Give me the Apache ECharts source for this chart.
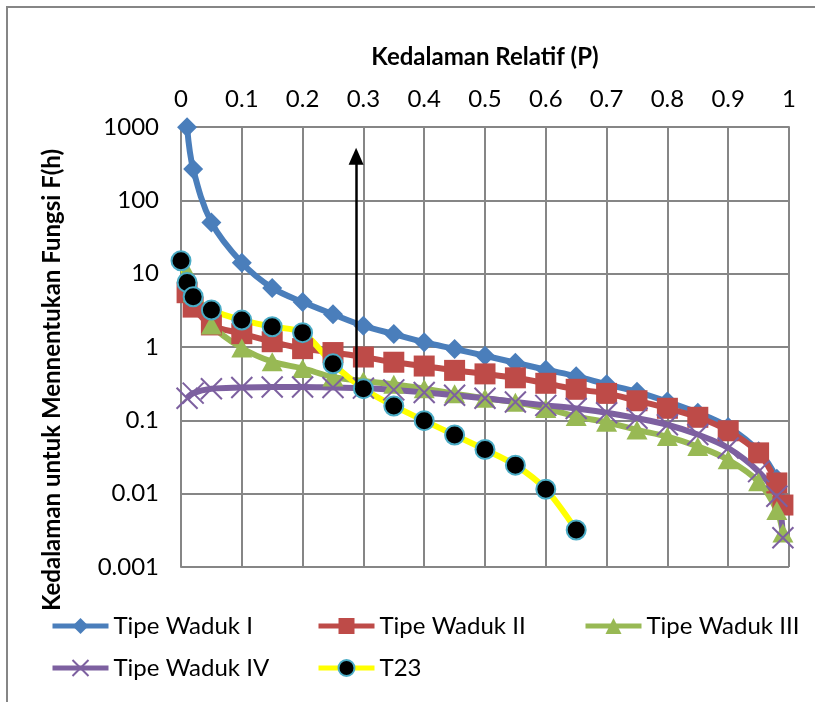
<!DOCTYPE html>
<html>
<head>
<meta charset="utf-8">
<script src="https://cdn.jsdelivr.net/npm/echarts@6/dist/echarts.min.js"></script>
<style>
  html, body { margin: 0; padding: 0; background: #fff; }
  #chart { width: 815px; height: 702px; }
</style>
</head>
<body>
<div id="chart"></div>
<script>
// Relative depth P for the four reservoir type curves
const pTypes = [0.01, 0.02, 0.05, 0.1, 0.15, 0.2, 0.25, 0.3, 0.35, 0.4, 0.45, 0.5,
                0.55, 0.6, 0.65, 0.7, 0.75, 0.8, 0.85, 0.9, 0.95, 0.98, 0.99];
// F(h) for each reservoir type
const fTipe1 = [993, 267, 50, 14.1, 6.4, 4.1, 2.8, 1.95, 1.5, 1.16, 0.94, 0.76,
                0.61, 0.49, 0.40, 0.31, 0.245, 0.18, 0.127, 0.081, 0.038, 0.016, 0.0075];
const fTipe2 = [5.5, 3.5, 2.0, 1.52, 1.18, 0.95, 0.84, 0.73, 0.62, 0.55, 0.48, 0.43,
                0.38, 0.32, 0.265, 0.233, 0.185, 0.146, 0.11, 0.072, 0.036, 0.014, 0.007];
const fTipe3 = [10.5, 5.5, 2.0, 0.97, 0.63, 0.51, 0.39, 0.345, 0.31, 0.27, 0.23, 0.20,
                0.176, 0.145, 0.113, 0.094, 0.074, 0.06, 0.044, 0.029, 0.0145, 0.0059, 0.0029];
const fTipe4 = [0.20, 0.235, 0.27, 0.28, 0.285, 0.285, 0.28, 0.275, 0.26, 0.24, 0.22, 0.20,
                0.178, 0.16, 0.145, 0.127, 0.107, 0.087, 0.064, 0.042, 0.02, 0.0092, 0.0025];
// Measured reservoir T23
const pT23 = [0, 0.01, 0.02, 0.05, 0.1, 0.15, 0.2, 0.25, 0.3, 0.35, 0.4, 0.45, 0.5, 0.55, 0.6, 0.65];
const fT23 = [15, 7.6, 4.85, 3.2, 2.33, 1.89, 1.57, 0.59, 0.27, 0.157, 0.099, 0.063, 0.04, 0.0245, 0.0115, 0.0032];
// Vertical arrow marking the chosen relative depth
const arrowP = 0.288;
const arrowFrom = 0.28;
const arrowTo = 400;

const seriesNames = ['Tipe Waduk I', 'Tipe Waduk II', 'Tipe Waduk III', 'Tipe Waduk IV', 'T23'];
const yTitle = 'Kedalaman untuk Mennentukan Fungsi F(h)';

const pair = (xs, ys) => xs.map((x, i) => [x, ys[i]]);

const FONT = 'Lato';
const GRID = '#868686';

const chart = echarts.init(document.getElementById('chart'), null, { renderer: 'canvas' });

const legendBox = (name, left, top) => ({
  data: [name],
  left: left,
  top: top,
  itemWidth: 56,
  itemHeight: 20,
  itemGap: 0,
  lineStyle: { width: 5 },
  textStyle: { fontFamily: FONT, fontSize: 24, color: '#000', lineHeight: 28 }
});

const option = {
  backgroundColor: '#fff',
  animation: false,
  textStyle: { fontFamily: FONT },
  graphic: [
    {
      type: 'rect',
      shape: { x: 7, y: 7, width: 840, height: 740 },
      style: { fill: 'none', stroke: GRID, lineWidth: 2 },
      silent: true
    },
    {
      type: 'text',
      x: 52, y: 380,
      rotation: Math.PI / 2,
      style: {
        text: yTitle,
        fontFamily: FONT, fontSize: 24, fontWeight: 'bold', fill: '#000',
        align: 'center', verticalAlign: 'middle'
      },
      silent: true
    }
  ],
  grid: { left: 181, right: 26, top: 127, bottom: 135 },
  legend: [
    legendBox(seriesNames[0], 45, 607),
    legendBox(seriesNames[1], 311, 607),
    legendBox(seriesNames[2], 578, 607),
    legendBox(seriesNames[3], 45, 649),
    legendBox(seriesNames[4], 311, 649)
  ],
  xAxis: {
    type: 'value',
    position: 'top',
    min: 0, max: 1, interval: 0.1,
    name: 'Kedalaman Relatif (P)',
    nameLocation: 'middle',
    nameGap: 58,
    nameTextStyle: { fontFamily: FONT, fontSize: 24, fontWeight: 'bold', color: '#000' },
    axisLine: { show: true, onZero: false, lineStyle: { color: GRID, width: 2 } },
    axisTick: { show: false },
    splitLine: { show: true, lineStyle: { color: GRID, width: 2 } },
    axisLabel: {
      fontFamily: FONT, fontSize: 24, color: '#000', margin: 16,
      formatter: v => String(Math.round(v * 10) / 10)
    }
  },
  yAxis: {
    type: 'log',
    logBase: 10,
    min: 0.001, max: 1000,
    axisLine: { show: true, onZero: false, lineStyle: { color: GRID, width: 2 } },
    axisTick: { show: false },
    splitLine: { show: true, lineStyle: { color: GRID, width: 2 } },
    axisLabel: {
      fontFamily: FONT, fontSize: 24, color: '#000', margin: 22,
      formatter: v => String(+v.toPrecision(1))
    }
  },
  series: [
    {
      name: seriesNames[0], type: 'line', smooth: 0.35,
      data: pair(pTypes, fTipe1),
      symbol: 'diamond', symbolSize: [20, 20],
      lineStyle: { color: '#4A7EBB', width: 6 },
      itemStyle: { color: '#4A7EBB' }
    },
    {
      name: seriesNames[1], type: 'line', smooth: 0.35,
      data: pair(pTypes, fTipe2),
      symbol: 'rect', symbolSize: [21, 21],
      lineStyle: { color: '#BE4B48', width: 6 },
      itemStyle: { color: '#BE4B48' }
    },
    {
      name: seriesNames[2], type: 'line', smooth: 0.35,
      data: pair(pTypes, fTipe3),
      symbol: 'triangle', symbolSize: [21, 19],
      lineStyle: { color: '#98B954', width: 6 },
      itemStyle: { color: '#98B954' }
    },
    {
      name: seriesNames[3], type: 'line', smooth: 0.35,
      data: pair(pTypes, fTipe4),
      symbol: 'path://M0,0L10,10M10,0L0,10', symbolSize: [21, 21],
      lineStyle: { color: '#7D60A0', width: 6 },
      itemStyle: { color: '#7D60A0', borderColor: '#7D60A0', borderWidth: 2 }
    },
    {
      name: seriesNames[4], type: 'line', smooth: 0.3,
      data: pair(pT23, fT23),
      symbol: 'circle', symbolSize: 19,
      lineStyle: { color: '#FFFF00', width: 6 },
      itemStyle: { color: '#000', borderColor: '#4BACC6', borderWidth: 2 },
      markLine: {
        silent: true,
        symbol: ['none', 'triangle'],
        symbolSize: [15, 17],
        label: { show: false },
        lineStyle: { color: '#000', width: 2.5, type: 'solid' },
        itemStyle: { color: '#000' },
        data: [[{ coord: [arrowP, arrowFrom] }, { coord: [arrowP, arrowTo] }]]
      }
    }
  ]
};

chart.setOption(option);
</script>
</body>
</html>
